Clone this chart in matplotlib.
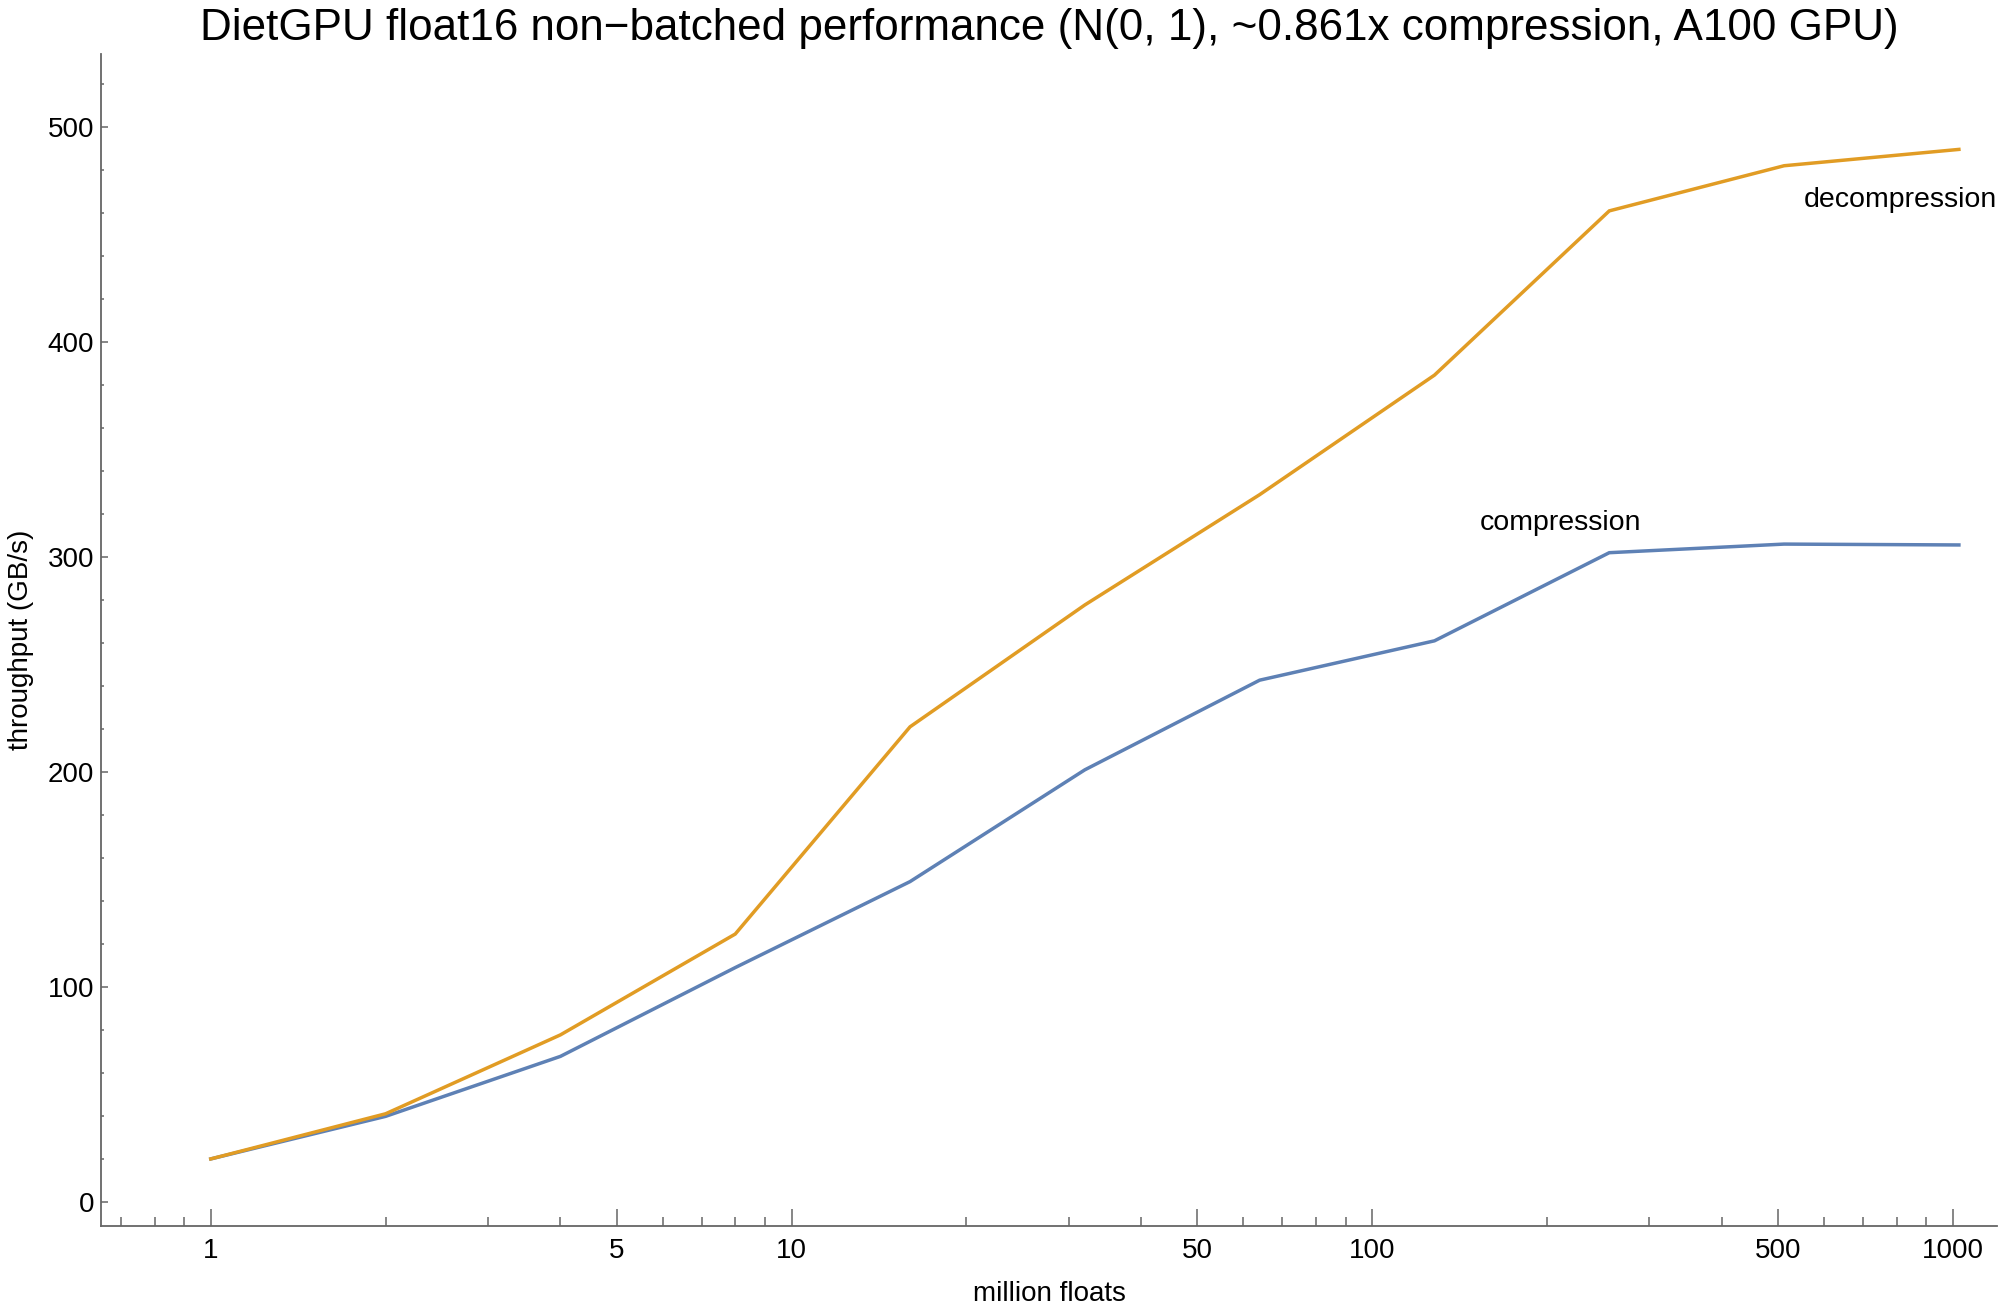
import matplotlib
matplotlib.use("Agg")
import matplotlib.pyplot as plt
from matplotlib.ticker import LogLocator, FixedLocator, MultipleLocator, NullFormatter, FixedFormatter

plt.rcParams['font.family'] = ['Liberation Sans', 'DejaVu Sans']

million_floats = [1, 2, 4, 8, 16, 32, 64, 128, 256, 512, 1024]
compression = [20, 39.8, 67.7, 109, 149, 201, 242.7, 261, 302, 306, 305.6]
decompression = [20, 41, 77.7, 124.6, 221, 277.7, 329, 384.6, 461, 482, 489.6]
x_major = [1, 5, 10, 50, 100, 500, 1000]
x_major_labels = ["1", "5", "10", "50", "100", "500", "1000"]
title = "DietGPU float16 non\u2212batched performance (N(0, 1), ~0.861x compression, A100 GPU)"

BLUE = "#5E81B5"
ORANGE = "#E19C24"
AXC = "#666666"

fig = plt.figure(figsize=(20, 13.16), dpi=100)
ax = fig.add_axes([0.0505, 0.0684, 0.948, 0.8906])

ax.plot(million_floats, compression, color=BLUE, lw=2.5, solid_joinstyle='miter')
ax.plot(million_floats, decompression, color=ORANGE, lw=2.5, solid_joinstyle='miter')

ax.set_xscale('log')
ax.set_xlim(0.647, 1191)
ax.set_ylim(-11.2, 534)

ax.xaxis.set_major_locator(FixedLocator(x_major))
ax.xaxis.set_major_formatter(FixedFormatter(x_major_labels))
ax.xaxis.set_minor_locator(LogLocator(base=10, subs=[1, 2, 3, 4, 5, 6, 7, 8, 9], numticks=20))
ax.xaxis.set_minor_formatter(NullFormatter())
ax.yaxis.set_major_locator(MultipleLocator(100))
ax.yaxis.set_minor_locator(MultipleLocator(20))

for s in ['top', 'right']:
    ax.spines[s].set_visible(False)
for s in ['left', 'bottom']:
    ax.spines[s].set_color(AXC)
    ax.spines[s].set_linewidth(1.3)

ax.tick_params(axis='x', which='major', direction='in', length=12, width=1.1, color=AXC, labelsize=20, pad=9)
ax.tick_params(axis='x', which='minor', direction='in', length=6.5, width=1.1, color=AXC)
ax.tick_params(axis='y', which='major', direction='in', length=5, width=1.1, color=AXC, labelsize=20, pad=5)
ax.tick_params(axis='y', which='minor', direction='in', length=2.4, width=1.1, color=AXC)

ax.set_xlabel("million floats", fontsize=20, labelpad=12)
ax.set_ylabel("throughput (GB/s)", fontsize=20, labelpad=10)
fig.text(0.0505 + 0.948 / 2, 0.994, title, fontsize=31.7, ha='center', va='top')

ax.text(553, 466, "decompression", fontsize=20.5, ha='left', va='center')
ax.text(153, 316, "compression", fontsize=20.5, ha='left', va='center')

fig.savefig("out.png", dpi=100)
